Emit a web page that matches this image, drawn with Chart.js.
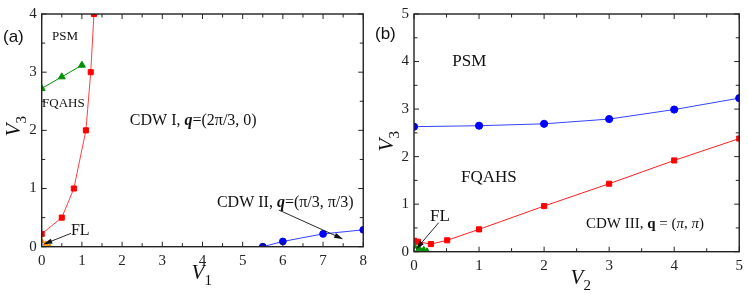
<!DOCTYPE html>
<html>
<head>
<meta charset="utf-8">
<script src="https://cdn.jsdelivr.net/npm/chart.js@4.4.1/dist/chart.umd.min.js"></script>
<style>
  html, body { margin: 0; padding: 0; background: #fff; }
  #wrap { position: relative; width: 748px; height: 294px; overflow: hidden; }
  canvas { position: absolute; top: 0; }
</style>
</head>
<body>
<div id="wrap">
  <canvas id="panelA" width="372" height="294" style="left:0"></canvas>
  <canvas id="panelB" width="378" height="294" style="left:370px"></canvas>
</div>
<script>
// ---- panel (a): V3 vs V1 ----
const aTicksX = [0, 1, 2, 3, 4, 5, 6, 7, 8];
const aTicksY = [0, 1, 2, 3, 4];
const aRedV1 = [0, 0.5, 0.8, 1.1, 1.22, 1.3];
const aRedV3 = [0.22, 0.5, 1.0, 2.0, 3.0, 4.0];
const aGreenV1 = [0, 0.5, 1.0];
const aGreenV3 = [2.72, 2.92, 3.12];
const aBlueV1 = [5.5, 6, 7, 8];
const aBlueV3 = [0, 0.09, 0.22, 0.29];
const aOrangeV1 = [0, 0.1, 0.2];
const aOrangeV3 = [0.1, 0.05, 0];

// ---- panel (b): V3 vs V2 ----
const bTicksX = [0, 1, 2, 3, 4, 5];
const bTicksY = [0, 1, 2, 3, 4, 5];
const bBlueV2 = [0, 1, 2, 3, 4, 5];
const bBlueV3 = [2.63, 2.65, 2.69, 2.79, 2.99, 3.23];
const bRedV2 = [0, 0.06, 0.26, 0.51, 1, 2, 3, 4, 5];
const bRedV3 = [0.23, 0.21, 0.16, 0.24, 0.47, 0.96, 1.43, 1.92, 2.38];
const bGreenV2 = [0, 0.08, 0.15, 0.2];
const bGreenV3 = [0.12, 0.06, 0.03, 0];

const SERIF = "'Liberation Serif', 'Times New Roman', serif";
const SANS = "'Liberation Sans', Arial, sans-serif";

function pts(xs, ys) {
    return xs.map((x, i) => ({ x: x, y: ys[i] }));
}

function series(xs, ys, color, lineColor, style, radius) {
    return {
        data: pts(xs, ys),
        showLine: true,
        borderColor: lineColor,
        borderWidth: 1,
        backgroundColor: color,
        pointBackgroundColor: color,
        pointBorderColor: color,
        pointStyle: style,
        pointRadius: radius,
        pointHoverRadius: radius,
        clip: 0
    };
}

// draws text made of several runs (plain / italic / bold)
function richText(ctx, runs, cx, cy, size) {
    let total = 0;
    runs.forEach(r => {
        ctx.font = (r[1] || '') + ' ' + size + 'px ' + SERIF;
        total += ctx.measureText(r[0]).width;
    });
    let x = cx - total / 2;
    ctx.textAlign = 'left';
    ctx.textBaseline = 'middle';
    runs.forEach(r => {
        ctx.font = (r[1] || '') + ' ' + size + 'px ' + SERIF;
        ctx.fillText(r[0], x, cy);
        x += ctx.measureText(r[0]).width;
    });
}

function arrow(ctx, x1, y1, x2, y2) {
    const ang = Math.atan2(y2 - y1, x2 - x1);
    const len = 9, half = 2.6;
    ctx.strokeStyle = '#111';
    ctx.fillStyle = '#111';
    ctx.lineWidth = 0.9;
    ctx.beginPath();
    ctx.moveTo(x1, y1);
    ctx.lineTo(x2 - Math.cos(ang) * len * 0.8, y2 - Math.sin(ang) * len * 0.8);
    ctx.stroke();
    ctx.beginPath();
    ctx.moveTo(x2, y2);
    ctx.lineTo(x2 - Math.cos(ang) * len - Math.sin(ang) * half, y2 - Math.sin(ang) * len + Math.cos(ang) * half);
    ctx.lineTo(x2 - Math.cos(ang) * len + Math.sin(ang) * half, y2 - Math.sin(ang) * len - Math.cos(ang) * half);
    ctx.closePath();
    ctx.fill();
}

// axis label like V with subscript; rotated for the y axis
function axisLabel(ctx, sub, x, y, rotate) {
    ctx.save();
    ctx.translate(x, y);
    if (rotate) ctx.rotate(-Math.PI / 2);
    ctx.fillStyle = '#111';
    ctx.textAlign = 'left';
    ctx.textBaseline = 'alphabetic';
    ctx.font = 'italic 21px ' + SERIF;
    const w = ctx.measureText('V').width;
    ctx.fillText('V', -w / 2 - 3, 7);
    ctx.font = '15px ' + SERIF;
    ctx.fillText(sub, w / 2 - 3, 13);
    ctx.restore();
}

// box frame with inward ticks on all four sides, major at integers, minor at halves
const frameTicks = {
    id: 'frameTicks',
    afterDatasetsDraw(chart) {
        const ctx = chart.ctx;
        const a = chart.chartArea;
        const xs = chart.scales.x, ys = chart.scales.y;
        ctx.save();
        ctx.strokeStyle = '#222';
        ctx.lineWidth = 1.4;
        ctx.strokeRect(a.left, a.top, a.right - a.left, a.bottom - a.top);
        ctx.lineWidth = 1;
        ctx.beginPath();
        for (let v = xs.min; v <= xs.max + 1e-9; v += 0.5) {
            const px = xs.getPixelForValue(v);
            const l = Number.isInteger(v) ? 5 : 3.5;
            ctx.moveTo(px, a.bottom); ctx.lineTo(px, a.bottom - l);
            ctx.moveTo(px, a.top); ctx.lineTo(px, a.top + l);
        }
        for (let v = ys.min; v <= ys.max + 1e-9; v += 0.5) {
            const py = ys.getPixelForValue(v);
            const l = Number.isInteger(v) ? 5 : 3.5;
            ctx.moveTo(a.left, py); ctx.lineTo(a.left + l, py);
            ctx.moveTo(a.right, py); ctx.lineTo(a.right - l, py);
        }
        ctx.stroke();
        ctx.restore();
    }
};

function annotate(chart, notes) {
    const ctx = chart.ctx;
    const xs = chart.scales.x, ys = chart.scales.y;
    ctx.save();
    ctx.fillStyle = '#111';
    notes.texts.forEach(t => {
        richText(ctx, t.runs, xs.getPixelForValue(t.x), ys.getPixelForValue(t.y), t.size);
    });
    notes.arrows.forEach(r => {
        arrow(ctx, xs.getPixelForValue(r[0]), ys.getPixelForValue(r[1]),
              xs.getPixelForValue(r[2]), ys.getPixelForValue(r[3]));
    });
    ctx.font = '17px ' + SANS;
    ctx.textAlign = 'left';
    ctx.textBaseline = 'middle';
    ctx.fillStyle = '#111';
    ctx.fillText(notes.tag, notes.tagX, notes.tagY);
    axisLabel(ctx, notes.xSub, notes.xLab[0], notes.xLab[1], false);
    axisLabel(ctx, '3', notes.yLab[0], notes.yLab[1], true);
    ctx.restore();
}

function makePanel(id, datasets, xMax, yMax, xTicks, yTicks, yWidth, xHeight, notes) {
    const ctx = document.getElementById(id).getContext('2d');
    return new Chart(ctx, {
        type: 'scatter',
        data: { datasets: datasets },
        options: {
            responsive: false,
            animation: false,
            devicePixelRatio: 1,
            layout: { padding: { top: 12.7, right: 8, left: 0, bottom: 0 } },
            plugins: {
                legend: { display: false },
                tooltip: { enabled: false }
            },
            scales: {
                x: {
                    type: 'linear', min: 0, max: xMax,
                    afterBuildTicks: s => { s.ticks = xTicks.map(v => ({ value: v })); },
                    afterFit: s => { s.height = xHeight; },
                    grid: { display: false, drawTicks: false },
                    border: { display: false },
                    ticks: { padding: 5, color: '#222', font: { family: SERIF, size: 15 } }
                },
                y: {
                    type: 'linear', min: 0, max: yMax,
                    afterBuildTicks: s => { s.ticks = yTicks.map(v => ({ value: v })); },
                    afterFit: s => { s.width = yWidth; },
                    grid: { display: false, drawTicks: false },
                    border: { display: false },
                    ticks: { padding: 5, color: '#222', font: { family: SERIF, size: 15 } }
                }
            }
        },
        plugins: [frameTicks, { id: 'notes', afterDraw: c => annotate(c, notes) }]
    });
}

makePanel('panelA', [
    series(aOrangeV1, aOrangeV3, '#ff8c00', '#ff8c00', 'triangle', 3),
    series(aRedV1, aRedV3, '#ff0000', '#ff4040', 'rect', 3.6),
    series(aGreenV1, aGreenV3, '#009000', '#009000', 'triangle', 4),
    series(aBlueV1, aBlueV3, '#0000ff', '#3344ff', 'circle', 3.4)
], 8, 4, aTicksX, aTicksY, 41.7, 47.3, {
    texts: [
        { runs: [['PSM']], x: 0.58, y: 3.62, size: 13 },
        { runs: [['FQAHS']], x: 0.54, y: 2.46, size: 13 },
        { runs: [['CDW I, '], ['q', 'italic bold'], ['=(2\u03c0/3, 0)']], x: 3.77, y: 2.16, size: 16 },
        { runs: [['CDW II, '], ['q', 'italic bold'], ['=(\u03c0/3, \u03c0/3)']], x: 6.06, y: 0.75, size: 16 },
        { runs: [['FL']], x: 0.96, y: 0.28, size: 16 }
    ],
    arrows: [[5.9, 0.63, 7.5, 0.13], [0.73, 0.23, 0.04, 0.04]],
    tag: '(a)', tagX: 3, tagY: 37,
    xSub: '1', xLab: [201, 272], yLab: [13, 127]
});

makePanel('panelB', [
    series(bGreenV2, bGreenV3, '#009000', '#009000', 'triangle', 4),
    series(bRedV2, bRedV3, '#ff0000', '#ff2020', 'rect', 3.6),
    series(bBlueV2, bBlueV3, '#0000ff', '#3344ff', 'circle', 3.6)
], 5, 5, bTicksX, bTicksY, 44, 42.3, {
    texts: [
        { runs: [['PSM']], x: 0.85, y: 4.01, size: 17 },
        { runs: [['FQAHS']], x: 1.15, y: 1.57, size: 17 },
        { runs: [['CDW III, '], ['q', 'bold'], [' = ('], ['\u03c0', 'italic'], [', '], ['\u03c0', 'italic'], [')']], x: 3.55, y: 0.59, size: 15 },
        { runs: [['FL']], x: 0.4, y: 0.73, size: 17 }
    ],
    arrows: [[0.38, 0.61, 0.03, 0.05]],
    tag: '(b)', tagX: 5, tagY: 34,
    xSub: '2', xLab: [210, 277], yLab: [16, 142]
});
</script>
</body>
</html>
